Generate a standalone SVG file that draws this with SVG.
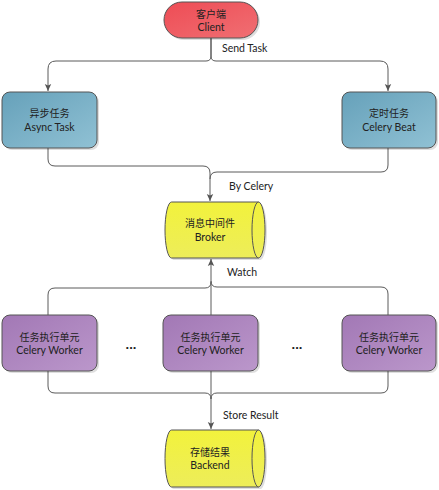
<svg xmlns="http://www.w3.org/2000/svg" width="439" height="490" viewBox="0 0 439 490">
<defs>
<linearGradient id="gRed" x1="0" y1="0" x2="1" y2="1"><stop offset="0" stop-color="#ee4c55"/><stop offset="1" stop-color="#f06f73"/></linearGradient>
<linearGradient id="gTeal" x1="0" y1="0" x2="1" y2="1"><stop offset="0" stop-color="#66a1ba"/><stop offset="1" stop-color="#90c1d4"/></linearGradient>
<linearGradient id="gPurple" x1="0" y1="0" x2="1" y2="1"><stop offset="0" stop-color="#a278b5"/><stop offset="1" stop-color="#bb97cb"/></linearGradient>
<linearGradient id="gYellow" x1="0" y1="0" x2="0" y2="1"><stop offset="0" stop-color="#f2f23c"/><stop offset="1" stop-color="#eded5a"/></linearGradient>
<marker id="arr" markerUnits="userSpaceOnUse" markerWidth="8" markerHeight="8" refX="7" refY="4" orient="auto"><path d="M0,0.8 L7,4 L0,7.2 L1.5,4 Z" fill="#555"/></marker>
</defs>
<style>
.ln{fill:none;stroke:#5a5a5a;stroke-width:1}
.sh{fill:#000;opacity:0.13}
.nd{stroke:#555;stroke-width:1}
.cn{font-family:"Noto Sans CJK SC",sans-serif;font-size:10px;fill:#222;text-anchor:middle}
.en{font-family:Lato,"Open Sans",sans-serif;font-size:10.5px;fill:#222;text-anchor:middle}
.lb{font-family:Lato,"Open Sans",sans-serif;font-size:10.5px;fill:#222}
.dots{font-family:"Liberation Sans",sans-serif;font-size:13px;font-weight:bold;fill:#222;text-anchor:middle}
</style>
<rect width="439" height="490" fill="#fff"/>
<g id="connectors">
<path class="ln" d="M211,38 V56 Q211,61 206,61 H56 Q48,61 48,69 V91" marker-end="url(#arr)"/>
<path class="ln" d="M211,38 V56 Q211,61 216,61 H380 Q388,61 388,69 V91" marker-end="url(#arr)"/>
<path class="ln" d="M48,148 V159 Q48,166 55,166 H203 Q210,166 210,173 V201" marker-end="url(#arr)"/>
<path class="ln" d="M388,148 V165 Q388,172 381,172 H217 Q210,172 210,179"/>
<path class="ln" d="M211,315 V259" marker-end="url(#arr)"/>
<path class="ln" d="M48,315 V295 Q48,288 55,288 H205 Q211,288 211,282"/>
<path class="ln" d="M388,315 V294 Q388,287 381,287 H217 Q211,287 211,281"/>
<path class="ln" d="M211,371 V429" marker-end="url(#arr)"/>
<path class="ln" d="M48,370 V386 Q48,393 55,393 H205 Q211,393 211,399"/>
<path class="ln" d="M388,370 V386 Q388,393 381,393 H217 Q211,393 211,399"/>
<text class="lb" x="222" y="52">Send Task</text>
<text class="lb" x="229" y="190">By Celery</text>
<text class="lb" x="227" y="276">Watch</text>
<text class="lb" x="223" y="419">Store Result</text>
</g>
<g id="client">
<rect class="sh" x="166" y="4" width="94" height="36" rx="18"/>
<rect class="nd" x="164" y="2" width="94" height="36" rx="18" fill="url(#gRed)"/>
<text class="cn" x="211" y="18">客户端</text>
<text class="en" x="211" y="31">Client</text>
</g>
<g id="async-task">
<rect class="sh" x="4" y="94" width="95" height="56" rx="8"/>
<rect class="nd" x="2" y="92" width="95" height="56" rx="8" fill="url(#gTeal)"/>
<text class="cn" x="49.5" y="117">异步任务</text>
<text class="en" x="49.5" y="131">Async Task</text>
</g>
<g id="celery-beat">
<rect class="sh" x="344" y="94" width="94" height="56" rx="8"/>
<rect class="nd" x="342" y="92" width="94" height="56" rx="8" fill="url(#gTeal)"/>
<text class="cn" x="389" y="117">定时任务</text>
<text class="en" x="389" y="131">Celery Beat</text>
</g>
<g id="broker">
<path class="sh" d="M173.5,204 H260.5 A6.5,28 0 0 1 260.5,260 H173.5 A6.5,28 0 0 1 173.5,204 Z"/>
<path class="nd" d="M171.5,202 H258.5 A6.5,28 0 0 1 258.5,258 H171.5 A6.5,28 0 0 1 171.5,202 Z" fill="url(#gYellow)"/>
<path class="nd" d="M258.5,202 A6.5,28 0 0 0 258.5,258" fill="none"/>
<text class="cn" x="210" y="227">消息中间件</text>
<text class="en" x="210" y="241">Broker</text>
</g>
<g id="worker-1">
<rect class="sh" x="4" y="317" width="95" height="56" rx="8"/>
<rect class="nd" x="2" y="315" width="95" height="56" rx="8" fill="url(#gPurple)"/>
<text class="cn" x="49.5" y="341">任务执行单元</text>
<text class="en" x="49.5" y="354">Celery Worker</text>
</g>
<g id="worker-2">
<rect class="sh" x="165" y="317" width="95" height="56" rx="8"/>
<rect class="nd" x="163" y="315" width="95" height="56" rx="8" fill="url(#gPurple)"/>
<text class="cn" x="210.5" y="341">任务执行单元</text>
<text class="en" x="210.5" y="354">Celery Worker</text>
</g>
<g id="worker-3">
<rect class="sh" x="344" y="317" width="94" height="56" rx="8"/>
<rect class="nd" x="342" y="315" width="94" height="56" rx="8" fill="url(#gPurple)"/>
<text class="cn" x="389" y="341">任务执行单元</text>
<text class="en" x="389" y="354">Celery Worker</text>
</g>
<text class="dots" x="131" y="349">...</text>
<text class="dots" x="297" y="349">...</text>
<g id="backend">
<path class="sh" d="M173.5,432 H260.5 A6.5,28.5 0 0 1 260.5,489 H173.5 A6.5,28.5 0 0 1 173.5,432 Z"/>
<path class="nd" d="M171.5,430 H258.5 A6.5,28.5 0 0 1 258.5,487 H171.5 A6.5,28.5 0 0 1 171.5,430 Z" fill="url(#gYellow)"/>
<path class="nd" d="M258.5,430 A6.5,28.5 0 0 0 258.5,487" fill="none"/>
<text class="cn" x="210" y="456">存储结果</text>
<text class="en" x="210" y="469">Backend</text>
</g>
</svg>
